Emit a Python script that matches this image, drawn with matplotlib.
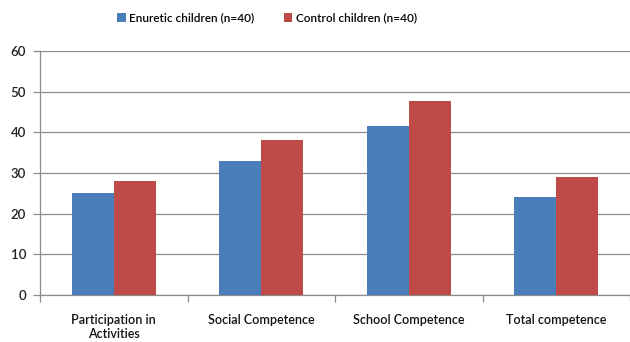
import matplotlib
matplotlib.use("Agg")
import matplotlib.pyplot as plt
import numpy as np

categories = ["Participation in\nActivities", "Social Competence", "School Competence", "Total competence"]
enuretic = [25.1, 33.0, 41.6, 24.0]
control = [28.0, 38.1, 47.7, 29.1]
series_names = ["Enuretic children (n=40)", "Control children (n=40)"]
yticks = [0, 10, 20, 30, 40, 50, 60]

plt.rcParams['font.family'] = ['Lato', 'DejaVu Sans']
W, H = 630, 342
fig = plt.figure(figsize=(W/100, H/100), dpi=100)
ax = fig.add_axes([40/W, 1-295/H, 590/W, 244/H])

x = np.arange(len(categories))
bw = 0.284
blue = "#4a7ebb"
red = "#be4b48"
b1 = ax.bar(x - bw/2, enuretic, bw, color=blue, label=series_names[0], zorder=3)
b2 = ax.bar(x + bw/2, control, bw, color=red, label=series_names[1], zorder=3)

ax.set_xlim(-0.5, len(categories) - 0.5)
ax.set_ylim(0, 60)
ax.set_yticks(yticks)
ax.set_yticklabels([str(t) for t in yticks], fontsize=9.5, color="#222222", fontweight='semibold')
ax.yaxis.grid(True, color="#8c8c8c", linewidth=0.9, zorder=0)
ax.set_axisbelow(True)

ax.set_xticks(x)
ax.set_xticklabels(categories, fontsize=9, color="#111111", fontweight='semibold', linespacing=1.2)
ax.tick_params(axis='x', length=0, pad=14)
ax.set_xticks(np.arange(-0.5, len(categories) + 0.5, 1), minor=True)
ax.tick_params(axis='x', which='minor', length=5, color="#8c8c8c", width=0.9)
ax.tick_params(axis='y', length=5, color="#8c8c8c", width=0.9, pad=5)

for s in ['top', 'right']:
    ax.spines[s].set_visible(False)
for s in ['left', 'bottom']:
    ax.spines[s].set_color("#8c8c8c")
    ax.spines[s].set_linewidth(0.9)

fig.legend(handles=[b1, b2], labels=series_names, loc='center', bbox_to_anchor=(267/W, 1-18/H),
           ncol=2, frameon=False, prop={'size': 8.5, 'weight': 'semibold'}, handlelength=0.7, handleheight=0.7,
           handletextpad=0.3, columnspacing=2.5)

fig.savefig("out.png", dpi=100)
